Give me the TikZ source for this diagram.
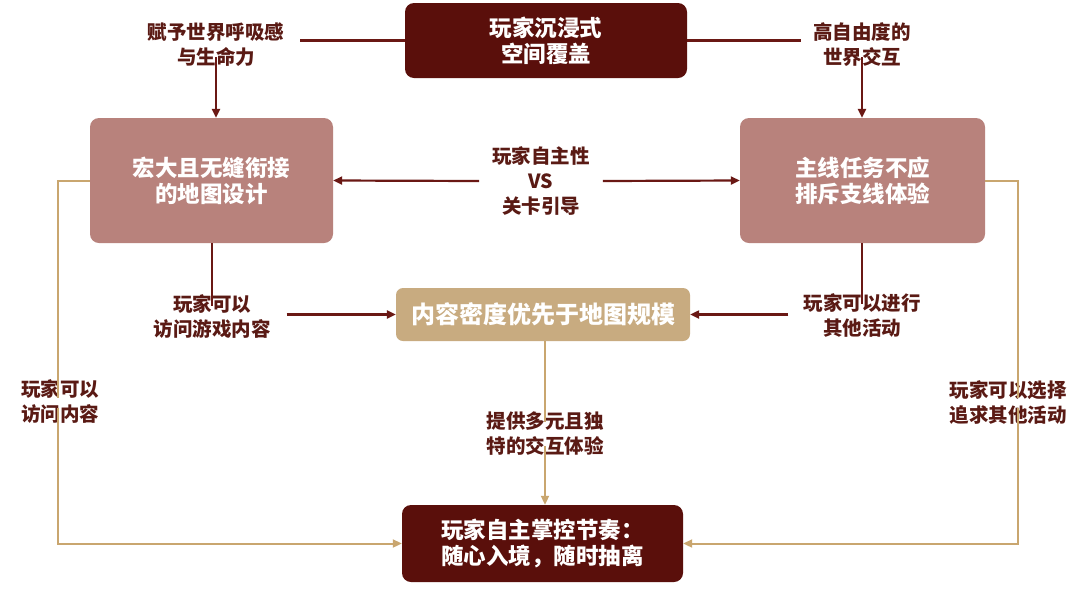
\documentclass[tikz,border=0pt]{standalone}
\usepackage{fontspec}
\setmainfont{Noto Sans CJK SC}
\usetikzlibrary{arrows.meta}
\definecolor{dred}{HTML}{5A0F0B}
\definecolor{rose}{HTML}{B8827C}
\definecolor{tan}{HTML}{C8AB80}
\definecolor{labc}{HTML}{5A1A14}
\definecolor{arrc}{HTML}{6A1814}
\definecolor{tline}{HTML}{C9A66F}
\begin{document}
\begin{tikzpicture}[x=1pt,y=-1pt,
  box/.style={rounded corners=9pt,text=white,align=center,inner sep=0pt,font=\bfseries\fontsize{22.5}{26}\selectfont},
  lab/.style={text=labc,align=center,inner sep=0pt,font=\bfseries\fontsize{19.5}{25}\selectfont},
  dline/.style={draw=arrc,line width=2.2pt},
  darr/.style={dline,-{Triangle[length=9pt,width=8pt]}},
  tl/.style={draw=tline,line width=2pt},
  tarr/.style={tl,-{Triangle[length=9pt,width=8pt]}}]
\useasboundingbox (0,0) rectangle (1080,590);
\fill[white] (0,0) rectangle (1080,590);
% boxes
\node[box,fill=dred,minimum width=282pt,minimum height=75pt] (top) at (546,40.5) {玩家沉浸式\\空间覆盖};
\node[box,fill=rose,minimum width=243pt,minimum height=125pt] (left) at (211.5,180.5) {宏大且无缝衔接\\的地图设计};
\node[box,fill=rose,minimum width=245pt,minimum height=125pt] (right) at (862.5,180.5) {主线任务不应\\排斥支线体验};
\node[box,fill=tan,rounded corners=7pt,minimum width=294pt,minimum height=53pt,font=\bfseries\fontsize{24}{26}\selectfont] (mid) at (543,314.5) {内容密度优先于地图规模};
\node[box,fill=dred,minimum width=281pt,minimum height=77pt] (bot) at (542.5,543.5) {玩家自主掌控节奏：\\随心入境，随时抽离};
% labels
\node[lab] (l1) at (216,45) {赋予世界呼吸感\\与生命力};
\node[lab] (r1) at (862,45) {高自由度的\\世界交互};
\node[lab] (vs) at (541,181) {玩家自主性\\VS\\关卡引导};
\node[lab] (l2) at (212,317) {玩家可以\\访问游戏内容};
\node[lab] (r2) at (862,315) {玩家可以进行\\其他活动};
\node[lab] (c2) at (545,434) {提供多元且独\\特的交互体验};
\node[lab] (l3) at (60,402) {玩家可以\\访问内容};
\node[lab] (r3) at (1008,402) {玩家可以选择\\追求其他活动};
% top connectors
\draw[dline] (top.west) -- ([xshift=16pt]l1.east |- top.west);
\draw[dline] (top.east) -- ([xshift=-12pt]r1.west |- top.east);
\draw[darr] ([yshift=10pt]l1.south) -- (l1.south |- left.north);
\draw[darr] ([yshift=10pt]r1.south) -- (r1.south |- right.north);
% vs
\draw[darr] ([xshift=-13pt]vs.west) -- (left.east);
\draw[darr] ([xshift=13pt]vs.east) -- (right.east -| right.west);
% to mid
\draw[dline] (l2.north |- left.south) -- ([yshift=-11pt]l2.north);
\draw[darr] ([xshift=16pt]l2.east |- mid.west) -- (mid.west);
\draw[dline] (r2.north |- right.south) -- ([yshift=-11pt]r2.north);
\draw[darr] ([xshift=-15pt]r2.west |- mid.east) -- (mid.east);
% mid to bottom
\draw[tl] (mid.south -| c2.north) -- ([yshift=-10pt]c2.north);
\draw[tarr] ([yshift=10pt]c2.south) -- (c2.south |- bot.north);
% outer loops
\draw[tl] (left.west) -| ([xshift=-2pt,yshift=-18pt]l3.north);
\draw[tarr] ([xshift=-2pt,yshift=16pt]l3.south) |- (bot.west);
\draw[tl] (right.east) -| ([xshift=10pt,yshift=-18pt]r3.north);
\draw[tarr] ([xshift=10pt,yshift=16pt]r3.south) |- (bot.east);
\end{tikzpicture}
\end{document}
